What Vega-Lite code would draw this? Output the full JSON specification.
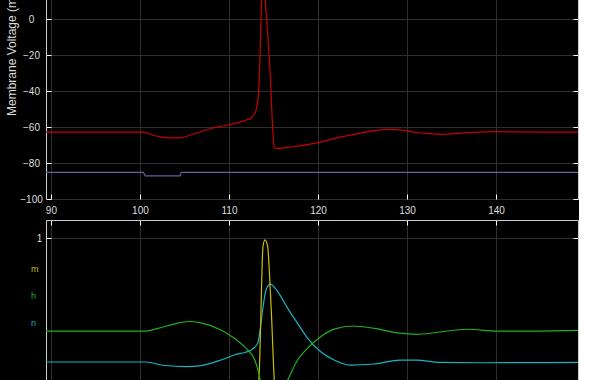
{
  "$schema": "https://vega.github.io/schema/vega-lite/v6.json",
  "background": "#000000",
  "padding": {"left": 4, "top": -99, "right": 0, "bottom": 0},
  "spacing": 21,
  "bounds": "flush",
  "datasets": {
    "top": [
      {"s": "V", "t": 89.45, "v": -62.9}, {"s": "V", "t": 100.4, "v": -62.9}, {"s": "V", "t": 100.8, "v": -63.3},
      {"s": "V", "t": 101.5, "v": -64.6}, {"s": "V", "t": 102.4, "v": -65.6}, {"s": "V", "t": 103.5, "v": -66.0},
      {"s": "V", "t": 104.5, "v": -66.0}, {"s": "V", "t": 106.0, "v": -63.9}, {"s": "V", "t": 108.3, "v": -60.4},
      {"s": "V", "t": 109.9, "v": -58.9}, {"s": "V", "t": 111.0, "v": -57.6}, {"s": "V", "t": 112.1, "v": -55.8},
      {"s": "V", "t": 112.5, "v": -55.0}, {"s": "V", "t": 112.8, "v": -53.2}, {"s": "V", "t": 113.05, "v": -50.5},
      {"s": "V", "t": 113.3, "v": -42}, {"s": "V", "t": 113.45, "v": -27}, {"s": "V", "t": 113.55, "v": -8},
      {"s": "V", "t": 113.65, "v": 10}, {"s": "V", "t": 113.75, "v": 27}, {"s": "V", "t": 113.85, "v": 36},
      {"s": "V", "t": 113.95, "v": 31}, {"s": "V", "t": 114.1, "v": 10}, {"s": "V", "t": 114.35, "v": -8.5},
      {"s": "V", "t": 114.65, "v": -32.6}, {"s": "V", "t": 114.9, "v": -60}, {"s": "V", "t": 115.1, "v": -71.2},
      {"s": "V", "t": 115.25, "v": -71.9}, {"s": "V", "t": 117.0, "v": -71.1}, {"s": "V", "t": 120.0, "v": -68.7},
      {"s": "V", "t": 122.2, "v": -65.9}, {"s": "V", "t": 124.5, "v": -63.7}, {"s": "V", "t": 126.0, "v": -62.2},
      {"s": "V", "t": 127.8, "v": -61.3}, {"s": "V", "t": 129.7, "v": -61.9}, {"s": "V", "t": 131.2, "v": -63.2},
      {"s": "V", "t": 132.6, "v": -63.7}, {"s": "V", "t": 133.8, "v": -64.1}, {"s": "V", "t": 136.4, "v": -63.3},
      {"s": "V", "t": 139.8, "v": -62.6}, {"s": "V", "t": 144.7, "v": -62.8}, {"s": "V", "t": 149.2, "v": -62.9},
      {"s": "I", "t": 89.45, "v": -85.2}, {"s": "I", "t": 100.4, "v": -85.2}, {"s": "I", "t": 100.6, "v": -87.2},
      {"s": "I", "t": 104.5, "v": -87.2}, {"s": "I", "t": 104.65, "v": -85.2}, {"s": "I", "t": 149.2, "v": -85.2}
    ],
    "gate": [
      {"s": "h", "t": 89.45, "v": 0.483}, {"s": "h", "t": 100.7, "v": 0.483}, {"s": "h", "t": 102.0, "v": 0.498},
      {"s": "h", "t": 103.8, "v": 0.522}, {"s": "h", "t": 105.5, "v": 0.536}, {"s": "h", "t": 106.85, "v": 0.528},
      {"s": "h", "t": 109.1, "v": 0.489}, {"s": "h", "t": 110.6, "v": 0.443}, {"s": "h", "t": 112.1, "v": 0.378},
      {"s": "h", "t": 112.9, "v": 0.322}, {"s": "h", "t": 113.35, "v": 0.248}, {"s": "h", "t": 113.6, "v": 0.19},
      {"s": "h", "t": 114.0, "v": 0.12}, {"s": "h", "t": 114.6, "v": 0.08}, {"s": "h", "t": 115.3, "v": 0.1},
      {"s": "h", "t": 116.0, "v": 0.15}, {"s": "h", "t": 116.6, "v": 0.211}, {"s": "h", "t": 117.7, "v": 0.322},
      {"s": "h", "t": 118.8, "v": 0.387}, {"s": "h", "t": 120.3, "v": 0.452}, {"s": "h", "t": 121.8, "v": 0.494},
      {"s": "h", "t": 124.0, "v": 0.511}, {"s": "h", "t": 126.3, "v": 0.498}, {"s": "h", "t": 129.2, "v": 0.471},
      {"s": "h", "t": 131.1, "v": 0.465}, {"s": "h", "t": 136.7, "v": 0.493}, {"s": "h", "t": 140.1, "v": 0.483},
      {"s": "h", "t": 144.2, "v": 0.483}, {"s": "h", "t": 149.2, "v": 0.487},
      {"s": "n", "t": 89.45, "v": 0.311}, {"s": "n", "t": 100.7, "v": 0.311}, {"s": "n", "t": 102.6, "v": 0.293},
      {"s": "n", "t": 105.2, "v": 0.285}, {"s": "n", "t": 106.85, "v": 0.291}, {"s": "n", "t": 109.1, "v": 0.322},
      {"s": "n", "t": 110.6, "v": 0.35}, {"s": "n", "t": 112.5, "v": 0.378}, {"s": "n", "t": 113.23, "v": 0.415},
      {"s": "n", "t": 113.5, "v": 0.489}, {"s": "n", "t": 113.78, "v": 0.6}, {"s": "n", "t": 114.16, "v": 0.711},
      {"s": "n", "t": 114.64, "v": 0.744}, {"s": "n", "t": 115.47, "v": 0.702}, {"s": "n", "t": 116.6, "v": 0.609},
      {"s": "n", "t": 117.7, "v": 0.526}, {"s": "n", "t": 118.84, "v": 0.443}, {"s": "n", "t": 120.3, "v": 0.368},
      {"s": "n", "t": 121.8, "v": 0.322}, {"s": "n", "t": 123.6, "v": 0.294}, {"s": "n", "t": 126.3, "v": 0.3},
      {"s": "n", "t": 129.2, "v": 0.322}, {"s": "n", "t": 131.2, "v": 0.322}, {"s": "n", "t": 133.4, "v": 0.309},
      {"s": "n", "t": 138.3, "v": 0.307}, {"s": "n", "t": 149.2, "v": 0.309},
      {"s": "m", "t": 89.45, "v": 0.05}, {"s": "m", "t": 100.4, "v": 0.05}, {"s": "m", "t": 102.0, "v": 0.04},
      {"s": "m", "t": 104.5, "v": 0.04}, {"s": "m", "t": 108.0, "v": 0.06}, {"s": "m", "t": 111.0, "v": 0.09},
      {"s": "m", "t": 112.5, "v": 0.12}, {"s": "m", "t": 113.0, "v": 0.16}, {"s": "m", "t": 113.35, "v": 0.211},
      {"s": "m", "t": 113.57, "v": 0.544}, {"s": "m", "t": 113.71, "v": 0.822}, {"s": "m", "t": 113.82, "v": 0.952},
      {"s": "m", "t": 114.04, "v": 0.99}, {"s": "m", "t": 114.35, "v": 0.952}, {"s": "m", "t": 114.53, "v": 0.822},
      {"s": "m", "t": 114.8, "v": 0.544}, {"s": "m", "t": 115.09, "v": 0.211}, {"s": "m", "t": 115.3, "v": 0.1},
      {"s": "m", "t": 116.0, "v": 0.03}, {"s": "m", "t": 120.0, "v": 0.03}, {"s": "m", "t": 130.0, "v": 0.05},
      {"s": "m", "t": 149.2, "v": 0.05}
    ]
  },
  "vconcat": [
    {
      "width": 532,
      "height": 297,
      "data": {"name": "top"},
      "layer": [
        {
          "transform": [{"filter": "datum.s == 'V'"}],
          "mark": {"type": "line", "color": "#c80000", "strokeWidth": 1.2, "interpolate": "monotone", "clip": true},
          "encoding": {
            "x": {"field": "t", "type": "quantitative", "scale": {"domain": [89.45, 149.2], "nice": false, "zero": false},
                  "axis": {"orient": "bottom", "title": null, "values": [90, 100, 110, 120, 130, 140], "labelPadding": 11, "grid": true}},
            "y": {"field": "v", "type": "quantitative", "scale": {"domain": [-100, 65], "nice": false, "zero": false},
                  "axis": {"orient": "left", "title": "Membrane Voltage (mV)", "values": [-100, -80, -60, -40, -20, 0, 20, 40, 60],
                           "labelAlign": "center", "labelBaseline": "middle", "labelPadding": 20, "grid": true,
                           "titleX": -35, "titleBaseline": "middle", "titleAngle": -90}}
          }
        },
        {
          "transform": [{"filter": "datum.s == 'I'"}],
          "mark": {"type": "line", "color": "#6262a8", "strokeWidth": 1.2, "clip": true},
          "encoding": {
            "x": {"field": "t", "type": "quantitative",
                  "axis": {"orient": "top", "title": null, "labels": false, "grid": false, "values": [90, 100, 110, 120, 130, 140]}},
            "y": {"field": "v", "type": "quantitative",
                  "axis": {"orient": "right", "title": null, "labels": false, "grid": false, "values": [-100, -80, -60, -40, -20, 0, 20, 40, 60]}}
          }
        }
      ]
    },
    {
      "width": 532,
      "height": 216,
      "data": {"name": "gate"},
      "layer": [
        {
          "transform": [{"filter": "datum.s != 'h'"}],
          "mark": {"type": "line", "strokeWidth": 1.2, "interpolate": "monotone", "clip": true},
          "encoding": {
            "x": {"field": "t", "type": "quantitative", "scale": {"domain": [89.45, 149.2], "nice": false, "zero": false},
                  "axis": {"orient": "bottom", "title": null, "values": [90, 100, 110, 120, 130, 140], "labelPadding": 11, "grid": true}},
            "y": {"field": "v", "type": "quantitative", "scale": {"domain": [-0.1, 1.1], "nice": false, "zero": false},
                  "axis": {"orient": "left", "title": null, "values": [0, 1], "format": "~g", "labelAlign": "center", "labelBaseline": "middle", "labelPadding": 12, "grid": true}},
            "color": {"field": "s", "type": "nominal",
                      "scale": {"domain": ["m", "h", "n"], "range": ["#c8c000", "#20b020", "#18b4c0"]},
                      "legend": {"orient": "none", "legendX": -24, "legendY": 362, "title": null, "padding": 0,
                                 "symbolSize": 0, "symbolStrokeWidth": 0, "symbolOpacity": 0, "labelOffset": 0,
                                 "labelFontSize": 9, "labelFont": "Liberation Sans", "rowPadding": 17,
                                 "encode": {"labels": {"update": {"fill": {"scale": "color", "field": "value"}}}}}},
            "order": {"field": "t", "type": "quantitative"}
          }
        },
        {
          "transform": [{"filter": "datum.s == 'h'"}],
          "mark": {"type": "line", "strokeWidth": 1.2, "interpolate": "monotone", "clip": true},
          "encoding": {
            "x": {"field": "t", "type": "quantitative",
                  "axis": {"orient": "top", "title": null, "labels": false, "grid": false, "values": [90, 100, 110, 120, 130, 140]}},
            "y": {"field": "v", "type": "quantitative",
                  "axis": {"orient": "right", "title": null, "labels": false, "grid": false, "values": [0, 1]}},
            "color": {"field": "s", "type": "nominal"},
            "order": {"field": "t", "type": "quantitative"}
          }
        }
      ]
    }
  ],
  "config": {
    "view": {"stroke": "#cccccc", "strokeWidth": 1},
    "axis": {
      "domain": false,
      "gridColor": "#2e2e2e",
      "gridWidth": 1,
      "tickColor": "#ffffff",
      "tickSize": -5,
      "tickWidth": 1,
      "labelColor": "#dddddd",
      "labelFont": "Liberation Sans",
      "labelFontSize": 10,
      "titleColor": "#dddddd",
      "titleFont": "Liberation Sans",
      "titleFontSize": 12,
      "titleFontWeight": "normal"
    }
  }
}
